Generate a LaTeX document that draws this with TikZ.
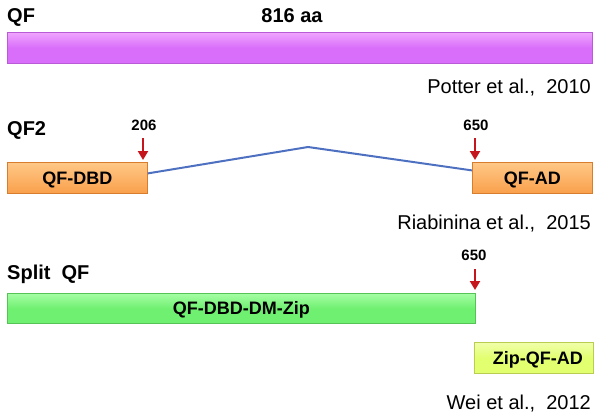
\documentclass[tikz,border=0pt]{standalone}
\usepackage{fontspec}
\setmainfont{Liberation Sans}
\usetikzlibrary{arrows.meta}
\definecolor{qfpurple}{RGB}{217,110,250}
\definecolor{qfpurplehi}{RGB}{240,165,255}
\definecolor{qfpurpleln}{RGB}{185,90,215}
\definecolor{qforange}{RGB}{249,160,75}
\definecolor{qforangehi}{RGB}{255,200,135}
\definecolor{qforangeln}{RGB}{215,125,45}
\definecolor{qfgreen}{RGB}{112,240,112}
\definecolor{qfgreenhi}{RGB}{165,255,165}
\definecolor{qfgreenln}{RGB}{85,195,85}
\definecolor{qfyellow}{RGB}{226,255,112}
\definecolor{qfyellowhi}{RGB}{240,255,170}
\definecolor{qfyellowln}{RGB}{185,205,80}
\definecolor{qfblue}{RGB}{78,112,192}
\definecolor{qfred}{RGB}{196,22,28}
\tikzset{
  bar/.style={anchor=north west, inner sep=0pt, line width=0.8pt,
    font=\bfseries\fontsize{18}{18}\selectfont, text height=12.9pt, text depth=0pt},
  purplebar/.style={bar, draw=qfpurpleln, top color=qfpurplehi, bottom color=qfpurple, middle color=qfpurple},
  orangebar/.style={bar, draw=qforangeln, top color=qforangehi, bottom color=qforange},
  greenbar/.style={bar, draw=qfgreenln, top color=qfgreenhi, bottom color=qfgreen, middle color=qfgreen},
  yellowbar/.style={bar, draw=qfyellowln, top color=qfyellowhi, bottom color=qfyellow, middle color=qfyellow},
  title/.style={anchor=base west, inner sep=0pt, font=\bfseries\fontsize{20}{20}\selectfont},
  cite/.style={anchor=base east, inner sep=0pt, font=\fontsize{20}{20}\selectfont},
  num/.style={anchor=base, inner sep=0pt, font=\bfseries\fontsize{15}{15}\selectfont},
  redarrow/.style={draw=qfred, line width=2.2pt, -{Triangle[width=10pt,length=9pt]}},
  linker/.style={draw=qfblue, line width=2pt}
}
\begin{document}
\begin{tikzpicture}[x=1pt,y=-1pt]
\useasboundingbox (0,0) rectangle (601,418);
% QF
\node[title] (tqf) at (7,22) {QF};
\node[anchor=base, inner sep=0pt, font=\bfseries\fontsize{20}{20}\selectfont] (taa) at (292,22) {816 aa};
\node[purplebar, minimum width=585pt, minimum height=31pt] (qf) at (7,32) {};
\node[cite] (cpotter) at (591,93) {Potter et al.,\ \ 2010};
% QF2
\node[title] (tqf2) at (7,135) {QF2};
\node[num] (n206) at (144,130) {206};
\node[num] (n650a) at (476,130) {650};
\node[orangebar, minimum width=140pt, minimum height=31pt] (dbd) at (7,162) {QF-DBD};
\node[orangebar, minimum width=120pt, minimum height=31pt] (ad) at (472,162) {QF-AD};
\coordinate (peak) at (308,147);
\draw[linker] ([yshift=4.5pt]dbd.east) -- (peak) -- ([yshift=7.5pt]ad.west);
\draw[redarrow] ([xshift=-1pt,yshift=-8pt]n206.south) -- ([xshift=-1pt,yshift=2pt]n206.south |- dbd.north);
\draw[redarrow] ([xshift=-1pt,yshift=-8pt]n650a.south) -- ([xshift=-1pt,yshift=2pt]n650a.south |- ad.north);
\node[cite] (criab) at (591,229) {Riabinina et al.,\ \ 2015};
% Split QF
\node[title] (tsplit) at (7,279) {Split\ \ QF};
\node[num] (n650b) at (474,260) {650};
\node[greenbar, minimum width=468pt, minimum height=30pt] (dbdzip) at (7,293) {QF-DBD-DM-Zip};
\node[yellowbar, minimum width=119pt, minimum height=31pt] (zipad) at (474,342) {\hspace*{8pt}Zip-QF-AD};
\draw[redarrow] ([xshift=1pt,yshift=-9pt]n650b.south) -- ([xshift=1pt,yshift=3pt]n650b.south |- dbdzip.north);
\node[cite] (cwei) at (591,409) {Wei et al.,\ \ 2012};
\end{tikzpicture}
\end{document}
